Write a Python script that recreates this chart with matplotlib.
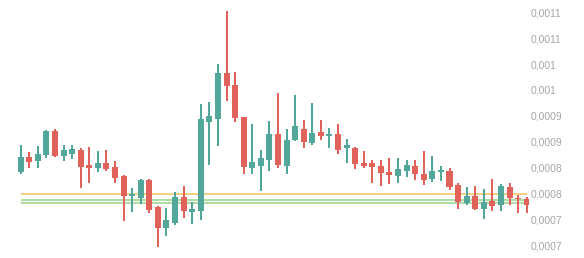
import numpy as np
import matplotlib
matplotlib.use("Agg")
import matplotlib.pyplot as plt

# prices in millionths (x 1e-6)
SCALE = 1e-6
opens = [840.6, 870.8, 862.9, 874.5, 920.5, 872.7, 876.6, 884.3, 854.8, 849.5,
         859.0, 851.3, 833.9, 794.8, 791.5, 825.2, 773.0, 733.5, 742.0, 793.3,
         764.8, 766.4, 938.5, 943.7, 1033.0, 1009.4, 947.2, 849.3, 853.2, 864.4,
         914.3, 853.4, 902.7, 924.0, 897.9, 918.6, 911.2, 914.3, 886.7, 888.2,
         858.6, 858.0, 853.4, 841.8, 834.1, 843.7, 853.4, 837.9, 827.1, 841.2,
         843.5, 816.1, 780.7, 795.2, 769.7, 785.7, 776.8, 812.6, 790.4, 788.6]
highs = [893.4, 879.3, 891.5, 922.0, 924.4, 893.4, 893.4, 887.6, 890.1, 881.8,
         883.8, 862.5, 835.8, 809.9, 827.3, 827.3, 775.1, 771.2, 802.2, 814.2,
         783.6, 972.7, 976.2, 1049.7, 1152.9, 1034.6, 948.5, 933.6, 883.8, 939.8,
         994.0, 924.4, 990.1, 941.8, 974.6, 941.8, 925.9, 934.0, 905.0, 889.9,
         881.8, 863.8, 864.4, 868.3, 868.3, 864.4, 864.4, 881.8, 872.2, 852.8,
         848.6, 820.9, 811.8, 814.2, 808.0, 827.7, 817.6, 820.3, 796.2, 793.5]
lows = [838.3, 849.5, 849.5, 868.9, 869.3, 862.5, 865.8, 810.9, 820.5, 841.8,
        843.7, 820.5, 747.1, 764.3, 778.4, 762.5, 696.8, 717.9, 738.7, 752.9,
        741.3, 748.4, 855.3, 892.1, 979.1, 938.3, 837.9, 837.9, 805.1, 843.7,
        849.5, 837.7, 901.5, 888.2, 893.8, 903.7, 888.2, 876.6, 859.2, 847.6,
        849.5, 820.5, 814.7, 817.4, 819.4, 832.1, 825.8, 816.1, 821.3, 824.4,
        807.0, 770.1, 777.4, 767.7, 750.7, 765.2, 766.4, 776.8, 761.0, 761.0]
closes = [870.8, 860.6, 876.4, 920.5, 872.7, 882.8, 886.3, 851.5, 849.5, 859.2,
          847.6, 830.2, 795.2, 799.1, 825.8, 767.7, 732.0, 749.0, 793.5, 766.4,
          770.1, 943.7, 949.9, 1033.0, 1007.5, 946.6, 851.3, 860.2, 868.3, 914.3,
          854.8, 902.7, 929.8, 898.3, 916.2, 911.2, 914.7, 884.7, 893.4, 856.7,
          852.2, 851.5, 838.7, 836.0, 847.6, 854.2, 836.8, 825.8, 843.7, 845.1,
          812.8, 782.3, 794.8, 769.3, 783.8, 774.9, 814.7, 791.9, 788.6, 776.8]

# horizontal levels
level_orange = 798.7
levels_green = [786.5, 781.3]

ytick_vals = [0.00115, 0.0011, 0.00105, 0.001, 0.00095, 0.0009, 0.00085, 0.0008, 0.00075, 0.0007]
ytick_labels = ["0,0011", "0,0011", "0,001", "0,001", "0,0009", "0,0009",
                "0,0008", "0,0008", "0,0007", "0,0007"]

o = np.array(opens) * SCALE
h = np.array(highs) * SCALE
l = np.array(lows) * SCALE
c = np.array(closes) * SCALE
x = np.arange(len(o))

UP = "#52a69a"
DOWN = "#e0625a"
colors = np.where(c >= o, UP, DOWN)

fig = plt.figure(figsize=(5.84, 2.58), dpi=100)
ax = fig.add_axes([0, 0, 529 / 584, 1])

ax.vlines(x, l, h, colors=colors, linewidth=1.45, zorder=2)
body_bottom = np.minimum(o, c)
body_h = np.maximum(np.abs(c - o), 1.6e-6)
ax.bar(x, body_h, bottom=body_bottom, width=0.7, color=colors, linewidth=0, zorder=3)

ax.hlines(level_orange * SCALE, x[0], x[-1], colors="#ecc266", linewidth=1.1, zorder=1)
for lv in levels_green:
    ax.hlines(lv * SCALE, x[0], x[-1], colors="#97d48a", linewidth=1.1, zorder=1)

ax.set_xlim(-2.414, 59.27)
ax.set_ylim(0.00067494, 0.0011738)

ax.set_xticks([])
ax.yaxis.tick_right()
ax.set_yticks(ytick_vals)
ax.set_yticklabels(ytick_labels, fontfamily="Liberation Sans", fontsize=7.4, color="#a6a6a6")
ax.tick_params(axis="y", length=0, pad=1.2)
for s in ax.spines.values():
    s.set_visible(False)
ax.patch.set_alpha(0)

fig.savefig("out.png", dpi=100, facecolor="white")
